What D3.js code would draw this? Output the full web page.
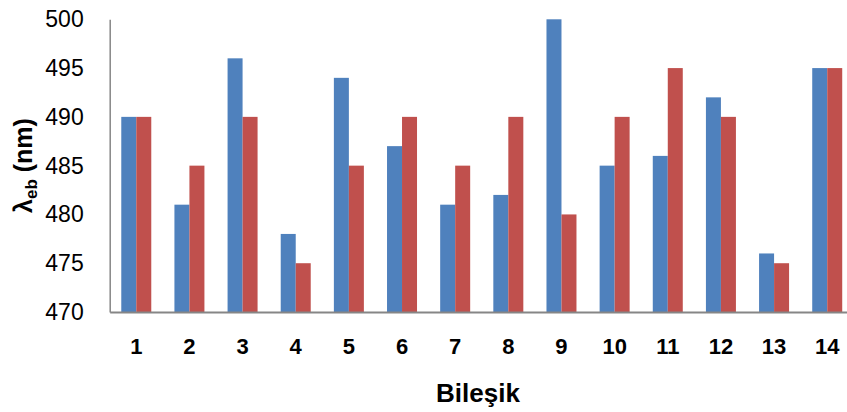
<!DOCTYPE html>
<html><head><meta charset="utf-8">
<script src="https://cdn.jsdelivr.net/npm/d3@7"></script>
<style>body{margin:0;background:#fff}svg{display:block}</style>
</head><body>
<svg id="c" width="847" height="412"></svg>
<script>
const categories = ["1","2","3","4","5","6","7","8","9","10","11","12","13","14"];
const seriesBlue = [490,481,496,478,494,487,481,482,500,485,486,492,476,495];
const seriesRed  = [490,485,490,475,485,490,485,490,480,490,495,490,475,495];
const yTicks = [470,475,480,485,490,495,500];
const colors = ["#4F81BD","#C0504D"];

(function(){
const svg = d3.select("#c");
const mLeft = 109.7, mRight = 853.8, mTop = 19.3, mBottom = 312;
const x = d3.scaleBand().domain(categories).range([mLeft,mRight]).paddingInner(0.4356).paddingOuter(0.2178);
const x1 = d3.scaleBand().domain([0,1]).range([0,x.bandwidth()]);
const y = d3.scaleLinear().domain([470,500]).range([mBottom,mTop]);

const series = [seriesBlue, seriesRed];
series.forEach((s,si)=>{
  svg.append("g").selectAll("rect").data(s).join("rect")
    .attr("x",(d,i)=>x(categories[i])+x1(si))
    .attr("y",d=>y(d))
    .attr("width",x1.bandwidth())
    .attr("height",d=>y(470)-y(d))
    .attr("fill",colors[si]);
});

const ya = svg.append("g").attr("transform",`translate(${mLeft},0)`)
  .call(d3.axisLeft(y).tickValues(yTicks).tickSize(0).tickPadding(26));
ya.select(".domain").attr("stroke","#868686").attr("stroke-width",1.5);
ya.selectAll("text").attr("font-family","Liberation Sans, Arial, sans-serif").attr("font-size",23).attr("fill","#000");

const xa = svg.append("g").attr("transform",`translate(0,${mBottom})`)
  .call(d3.axisBottom(x).tickSize(0).tickPadding(26));
xa.select(".domain").attr("stroke","#868686").attr("stroke-width",2);
xa.selectAll("text").attr("font-family","Liberation Sans, Arial, sans-serif").attr("font-size",22).attr("font-weight","bold").attr("fill","#000");

svg.append("text").attr("x",478).attr("y",402).attr("text-anchor","middle")
  .attr("font-family","Liberation Sans, Arial, sans-serif").attr("font-size",26).attr("font-weight","bold")
  .text("Bileşik");

const yl = svg.append("text").attr("transform","translate(32,165.5) rotate(-90)").attr("text-anchor","middle")
  .attr("font-family","Liberation Sans, Arial, sans-serif").attr("font-size",25).attr("font-weight","bold");
yl.append("tspan").text("λ");
yl.append("tspan").attr("font-size",17).attr("dy",5).text("eb");
yl.append("tspan").attr("dy",-5).text(" (nm)");
})();
</script>
</body></html>
